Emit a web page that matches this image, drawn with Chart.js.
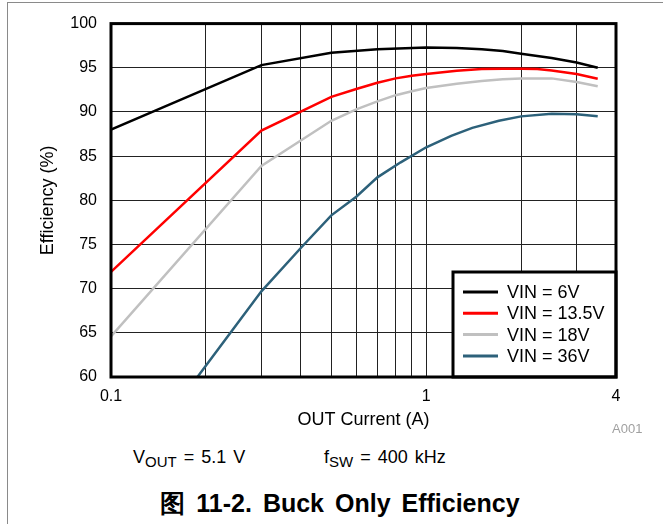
<!DOCTYPE html>
<html>
<head>
<meta charset="utf-8">
<script src="https://cdn.jsdelivr.net/npm/chart.js@4.4.1/dist/chart.umd.min.js"></script>
<style>
  html, body { margin: 0; padding: 0; background: #fff; }
  body { width: 663px; height: 524px; position: relative; overflow: hidden; font-family: "Liberation Sans", Arial, sans-serif; }
  #frame { position: absolute; left: 7px; top: 2px; width: 700px; height: 600px; border-left: 1px solid #8a8a8a; border-top: 1px solid #8a8a8a; }
  #wrap { position: absolute; left: 0; top: 0; width: 663px; height: 440px; }
  .note { position: absolute; font-size: 18px; color: #000; white-space: nowrap; word-spacing: 2px; }
  .note sub { font-size: 15px; vertical-align: -4px; word-spacing: 0; }
  #tag { position: absolute; left: 612px; top: 421px; font-size: 13px; color: #a0a0a0; }
  #caption { position: absolute; left: 0; width: 680px; top: 487px; text-align: center; font-size: 25px; font-weight: bold; word-spacing: 4px; }
</style>
</head>
<body>
<div id="frame"></div>
<div id="wrap"><canvas id="chart" width="663" height="440"></canvas></div>
<div id="tag">A001</div>
<div class="note" style="left:133px; top:447px;">V<sub>OUT</sub> = 5.1 V</div>
<div class="note" style="left:324px; top:447px;">f<sub>SW</sub> = 400 kHz</div>
<div id="caption">图 11-2. Buck Only Efficiency</div>
<script>
// OUT current (A) on a log axis, efficiency in %
var cur6 = [0.1, 0.3, 0.5, 0.7, 1, 1.25, 1.5, 1.75, 2, 2.5, 3, 3.5];
var eff6 = [88.0, 95.3, 96.7, 97.1, 97.3, 97.25, 97.1, 96.9, 96.6, 96.1, 95.6, 95.0];

var cur135 = [0.1, 0.3, 0.5, 0.6, 0.7, 0.8, 0.9, 1, 1.25, 1.5, 1.75, 2, 2.25, 2.5, 3, 3.5];
var eff135 = [71.9, 87.9, 91.7, 92.6, 93.3, 93.8, 94.1, 94.3, 94.65, 94.85, 94.9, 94.9, 94.85, 94.7, 94.3, 93.75];

var cur18 = [0.1, 0.3, 0.5, 0.6, 0.7, 0.8, 0.9, 1, 1.25, 1.5, 1.75, 2, 2.5, 3, 3.5];
var eff18 = [64.6, 83.9, 89.0, 90.3, 91.2, 91.9, 92.35, 92.7, 93.2, 93.5, 93.7, 93.8, 93.8, 93.4, 92.9];

var cur36 = [0.188, 0.3, 0.4, 0.5, 0.6, 0.7, 0.83, 1, 1.2, 1.4, 1.7, 2, 2.5, 3, 3.5];
var eff36 = [60.0, 69.7, 74.6, 78.3, 80.4, 82.6, 84.3, 86.0, 87.3, 88.2, 89.0, 89.5, 89.8, 89.75, 89.5];

var seriesNames = ['VIN = 6V', 'VIN = 13.5V', 'VIN = 18V', 'VIN = 36V'];
var seriesColors = ['#000000', '#ff0000', '#c0c0c0', '#2d617a'];

var xGrid = [0.1, 0.2, 0.3, 0.4, 0.5, 0.6, 0.7, 0.8, 0.9, 1, 2, 3, 4];
var xLabels = [0.1, 1, 4];

function toPoints(xs, ys) {
  return xs.map(function (x, i) { return { x: x, y: ys[i] }; });
}

var curves = [[cur6, eff6], [cur135, eff135], [cur18, eff18], [cur36, eff36]];
var datasets = curves.map(function (c, i) {
  return {
    label: seriesNames[i],
    data: toPoints(c[0], c[1]),
    borderColor: seriesColors[i],
    borderWidth: 2.5,
    pointRadius: 0,
    tension: 0,
    fill: false
  };
});

// thick frame + legend box inside the plot
var framePlugin = {
  id: 'framePlugin',
  afterDraw: function (chart) {
    var ctx = chart.ctx;
    var a = chart.chartArea;
    ctx.save();
    var bw = 163, bh = 105;
    var bx = a.right - bw, by = a.bottom - bh;
    ctx.fillStyle = '#fff';
    ctx.fillRect(bx, by, bw, bh);
    ctx.strokeStyle = '#000';
    ctx.lineWidth = 3;
    ctx.strokeRect(bx, by, bw, bh);
    ctx.font = '18px "Liberation Sans", Arial, sans-serif';
    ctx.textBaseline = 'middle';
    for (var i = 0; i < seriesNames.length; i++) {
      var ly = by + 20 + i * 21.3;
      ctx.beginPath();
      ctx.strokeStyle = seriesColors[i];
      ctx.lineWidth = 3;
      ctx.moveTo(bx + 10, ly);
      ctx.lineTo(bx + 45, ly);
      ctx.stroke();
      ctx.fillStyle = '#000';
      ctx.fillText(seriesNames[i], bx + 54, ly + 1);
    }
    ctx.strokeStyle = '#000';
    ctx.lineWidth = 3;
    ctx.strokeRect(a.left, a.top, a.right - a.left, a.bottom - a.top);
    ctx.restore();
  }
};

new Chart(document.getElementById('chart'), {
  type: 'line',
  data: { datasets: datasets },
  options: {
    responsive: false,
    animation: false,
    layout: { padding: { left: 37, top: 19, right: 47, bottom: 9 } },
    plugins: { legend: { display: false }, tooltip: { enabled: false } },
    scales: {
      x: {
        type: 'logarithmic',
        min: 0.1,
        max: 4,
        afterBuildTicks: function (scale) {
          scale.ticks = xGrid.map(function (v) { return { value: v }; });
        },
        afterFit: function (scale) { scale.height = 54; },
        grid: { color: '#222', lineWidth: 1, drawTicks: false },
        border: { display: false },
        ticks: {
          autoSkip: false,
          maxRotation: 0,
          padding: 10,
          color: '#000',
          font: { family: '"Liberation Sans", Arial, sans-serif', size: 16 },
          callback: function (v) { return xLabels.indexOf(v) >= 0 ? String(v) : ''; }
        },
        title: {
          display: true,
          text: 'OUT Current (A)',
          color: '#000',
          padding: 0,
          font: { family: '"Liberation Sans", Arial, sans-serif', size: 18 }
        }
      },
      y: {
        min: 60,
        max: 100,
        afterFit: function (scale) { scale.width = 74; },
        grid: { color: '#222', lineWidth: 1, drawTicks: false },
        border: { display: false },
        ticks: {
          stepSize: 5,
          padding: 14,
          color: '#000',
          font: { family: '"Liberation Sans", Arial, sans-serif', size: 16 }
        },
        title: {
          display: true,
          text: 'Efficiency (%)',
          color: '#000',
          padding: 0,
          font: { family: '"Liberation Sans", Arial, sans-serif', size: 18 }
        }
      }
    }
  },
  plugins: [framePlugin]
});
</script>
</body>
</html>
